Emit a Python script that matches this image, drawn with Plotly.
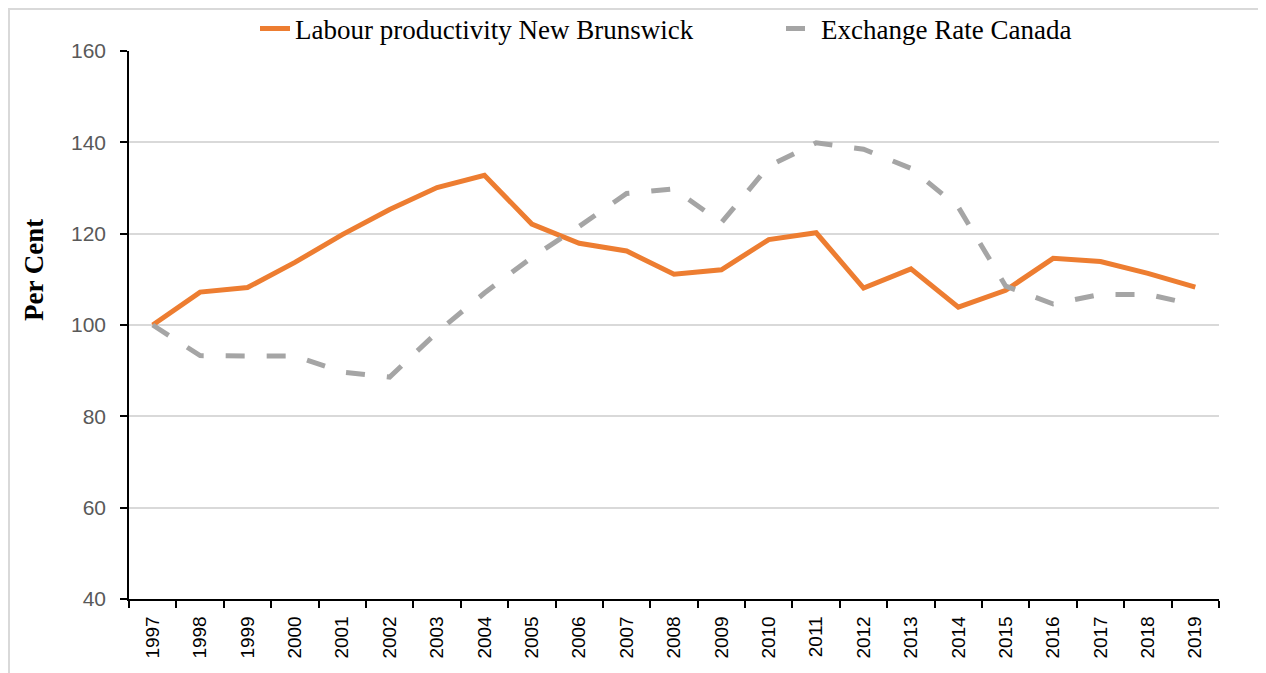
import plotly.graph_objects as go

# Index values (1997 = 100)
years = [str(y) for y in range(1997, 2020)]
labour_productivity_nb = [100.0, 107.2, 108.2, 113.7, 119.8, 125.3, 130.1, 132.8, 122.1, 117.9, 116.2,
                          111.1, 112.1, 118.7, 120.2, 108.1, 112.3, 103.9, 107.6, 114.6, 113.9, 111.3, 108.3]
exchange_rate_canada = [100.0, 93.3, 93.2, 93.2, 89.7, 88.6, 98.4, 107.0, 114.8, 121.6, 128.8,
                        129.8, 122.4, 134.8, 139.9, 138.5, 134.3, 125.8, 108.5, 104.6, 106.7, 106.7, 104.4]
y_ticks = [40, 60, 80, 100, 120, 140, 160]

W, H = 1266, 673
OFF = 8  # the page body margin shifts the figure by 8px
# plot area in screen pixels: x 129..1219, y 51..599
L, T = 129 - OFF, 51 - OFF
pw, ph = 1090, 548
R, B = W - L - pw, H - T - ph


def px_x(p):
    # screen pixel -> paper x
    return (p - OFF - L) / pw


def px_y(p):
    # screen pixel (from top) -> paper y
    return 1 - (p - OFF - T) / ph


legend_font = dict(family='Liberation Serif, Times New Roman, serif', size=27, color='black')

fig = go.Figure()
fig.add_trace(go.Scatter(x=years, y=labour_productivity_nb, mode='lines',
                         name='Labour productivity New Brunswick', legend='legend',
                         line=dict(color='#ED7D31', width=5)))
fig.add_trace(go.Scatter(x=years, y=exchange_rate_canada, mode='lines',
                         name='Exchange Rate Canada', legend='legend2',
                         line=dict(color='#A5A5A5', width=5, dash='19px,22px')))

# light grey frame around the chart (top and left edges visible)
fig.add_shape(type='rect', xref='paper', yref='paper',
              x0=px_x(OFF + 1), x1=px_x(W + 40), y0=px_y(H + 40), y1=px_y(OFF + 1),
              line=dict(color='#D9D9D9', width=2), layer='below')

# y axis title, placed like the original (above the axis centre)
fig.add_annotation(text='<b>Per Cent</b>', textangle=-90, showarrow=False,
                   xref='paper', yref='paper', x=px_x(34), y=px_y(270),
                   xanchor='center', yanchor='middle',
                   font=dict(family='Liberation Serif, Times New Roman, serif', size=27, color='black'))

fig.update_layout(
    width=W, height=H,
    margin=dict(l=L, r=R, t=T, b=B, autoexpand=False),
    paper_bgcolor='white', plot_bgcolor='white',
    showlegend=True,
    legend=dict(orientation='h', x=px_x(296 - 41), xanchor='left', y=px_y(29), yanchor='middle',
                font=legend_font, bgcolor='rgba(0,0,0,0)'),
    legend2=dict(orientation='h', x=px_x(822 - 41), xanchor='left', y=px_y(29), yanchor='middle',
                 font=legend_font, bgcolor='rgba(0,0,0,0)'),
    xaxis=dict(type='category', range=[-0.5, len(years) - 0.5], tickangle=-90,
               tickson='boundaries', ticks='outside', automargin=False,
               ticklen=7, tickwidth=1.5, tickcolor='black',
               showline=True, linecolor='black', linewidth=1.5, showgrid=False,
               tickfont=dict(family='Liberation Sans, Arial, sans-serif', size=19, color='black'),
               ticklabelstandoff=8),
    yaxis=dict(range=[40, 160], tickvals=y_ticks, ticks='outside', ticklen=7, tickwidth=1.5,
               tickcolor='black', showline=True, linecolor='black', linewidth=1.5,
               showgrid=True, gridcolor='#D9D9D9', gridwidth=1.5, zeroline=False,
               automargin=False,
               tickfont=dict(family='Liberation Sans, Arial, sans-serif', size=21, color='#595959'),
               ticklabelstandoff=10),
)

fig.write_html("out.html")
